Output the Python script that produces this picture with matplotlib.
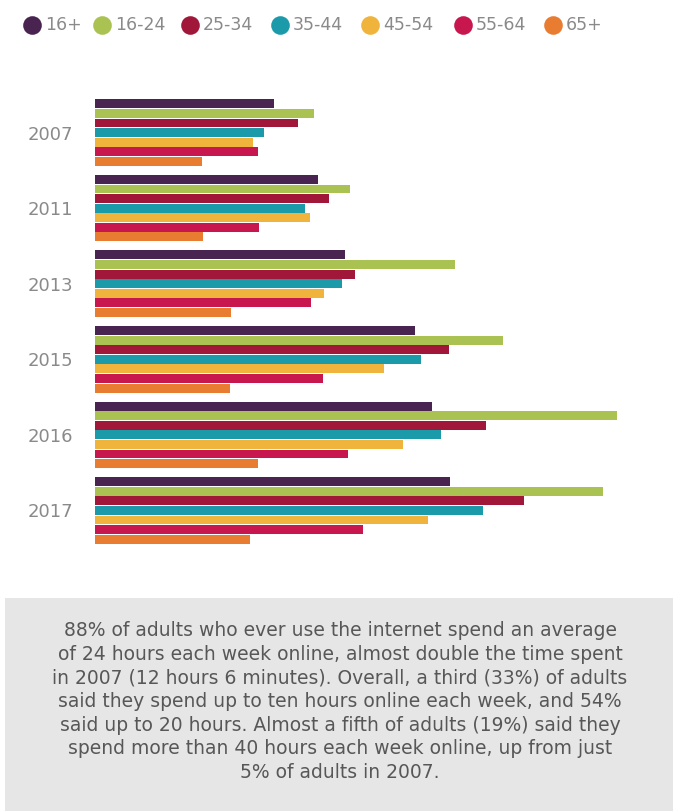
import numpy as np
import matplotlib
matplotlib.use('Agg')
import matplotlib.pyplot as plt
from matplotlib.patches import Rectangle

# Hours spent online each week, by age group
years = ['2007', '2011', '2013', '2015', '2016', '2017']
groups = ['16+', '16-24', '25-34', '35-44', '45-54', '55-64', '65+']
hours_16plus = [12.1, 15.1, 16.9, 21.6, 22.8, 24.0]
hours_16_24 = [14.8, 17.2, 24.3, 27.6, 35.3, 34.3]
hours_25_34 = [13.7, 15.8, 17.6, 23.9, 26.4, 29.0]
hours_35_44 = [11.4, 14.2, 16.7, 22.0, 23.4, 26.2]
hours_45_54 = [10.7, 14.5, 15.5, 19.5, 20.8, 22.5]
hours_55_64 = [11.0, 11.1, 14.6, 15.4, 17.1, 18.1]
hours_65plus = [7.2, 7.3, 9.2, 9.1, 11.0, 10.5]

colors = ['#4a2450', '#a9c251', '#a0173a', '#1b9aaa', '#f0b43c', '#c8174f', '#e87d32']

caption = ("88% of adults who ever use the internet spend an average\n"
           "of 24 hours each week online, almost double the time spent\n"
           "in 2007 (12 hours 6 minutes). Overall, a third (33%) of adults\n"
           "said they spend up to ten hours online each week, and 54%\n"
           "said up to 20 hours. Almost a fifth of adults (19%) said they\n"
           "spend more than 40 hours each week online, up from just\n"
           "5% of adults in 2007.")

W, H = 673, 811
fig = plt.figure(figsize=(W / 100, H / 100), dpi=100)
fig.patch.set_facecolor('white')

# overlay in pixel coords for legend and caption box
over = fig.add_axes([0, 0, 1, 1])
over.set_xlim(0, W)
over.set_ylim(H, 0)
over.axis('off')

# bars
series = [hours_16plus, hours_16_24, hours_25_34, hours_35_44,
          hours_45_54, hours_55_64, hours_65plus]
ax = fig.add_axes([95 / W, 1 - 544 / H, (660 - 95) / W, (544 - 99) / H])
pitch = 0.127
height = 0.118
y = np.arange(len(years))
for i, (vals, c) in enumerate(zip(series, colors)):
    ax.barh(y + (i - 3) * pitch, vals, height=height, color=c, label=groups[i])
ax.set_xlim(0, 565 / 14.8)
ax.set_ylim(len(years) - 1 + 3.5 * pitch, -3.5 * pitch)
ax.set_yticks(y)
ax.set_yticklabels(years, fontsize=13, color='#8a8a8a')
ax.tick_params(axis='y', length=0, pad=16)
ax.set_xticks([])
for s in ax.spines.values():
    s.set_visible(False)
ax.patch.set_alpha(0)

# legend row
leg_x = [32, 102, 190, 280, 370, 463, 553]
for x, g, c in zip(leg_x, groups, colors):
    over.scatter([x], [25], s=180, color=c, zorder=3, linewidths=0)
    over.text(x + 13, 25, g, fontsize=12.5, color='#8a8a8a', va='center', ha='left')

# caption box
over.add_patch(Rectangle((5, 598), W - 5, H - 598, facecolor='#e6e6e6', edgecolor='none'))
over.text(340, 621, caption, fontsize=13.5, color='#575757', ha='center', va='top',
          multialignment='center', linespacing=1.31)

fig.savefig('out.png', dpi=100)
